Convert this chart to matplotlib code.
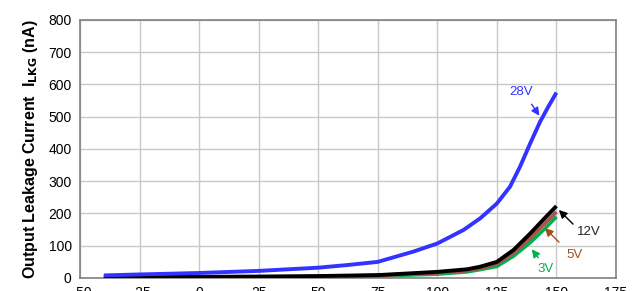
import numpy as np
import matplotlib
matplotlib.use("Agg")
import matplotlib.pyplot as plt

plt.rcParams['font.family'] = ['Liberation Sans', 'DejaVu Sans']

# readings (temperature in C, current in nA)
t_28v = [-40, -25, 0, 25, 50, 62, 75, 90, 100, 111, 118, 125, 130.5, 134.7, 138.9, 143.1, 146.5, 150]
i_28v = [8, 11, 15.5, 22, 32, 40, 50, 82, 107, 149, 185, 231, 283, 345, 416, 484, 530, 575]

t_low = [-40, 0, 25, 50, 75, 100, 112.5, 118, 125, 132, 139, 145, 150]
i_12v = [3, 3.5, 4.5, 6, 9, 19, 27, 35, 50, 87, 138, 185, 223]
i_5v = [1.5, 2, 3, 5, 8, 16, 23, 30, 44, 78, 124, 168, 205]
i_3v = [0.5, 1, 2, 3, 6, 12, 19, 26, 36, 68, 110, 152, 190]

xticks = [-50, -25, 0, 25, 50, 75, 100, 125, 150, 175]
yticks = [0, 100, 200, 300, 400, 500, 600, 700, 800]

c28, c12, c5, c3 = '#3333ff', '#000000', '#b0504a', '#00b050'

fig = plt.figure(figsize=(6.4, 2.91), dpi=100)
ax = fig.add_axes([0.125, 0.0447, 0.8375, 0.8866])

kw = dict(solid_capstyle='butt', solid_joinstyle='round')
ax.plot(t_low, i_3v, color=c3, lw=2.6, zorder=3, **kw)
ax.plot(t_low, i_5v, color=c5, lw=2.6, zorder=4, **kw)
ax.plot(t_low, i_12v, color=c12, lw=2.8, zorder=5, **kw)
ax.plot(t_28v, i_28v, color=c28, lw=2.8, zorder=5, **kw)

def label(txt, xy, xytext, col, tcol, tx, ty):
    ax.annotate('', xy=xy, xytext=xytext,
                arrowprops=dict(arrowstyle='-|>', color=col, lw=1.0, mutation_scale=12), zorder=6)
    ax.text(tx, ty, txt, color=tcol, fontsize=9.5, ha='center', va='center', zorder=6)

label('28V', (143.5, 496), (138.9, 546), c28, c28, 135.1, 576)
label('12V', (150.2, 217), (157.8, 161), '#000000', '#222222', 163.6, 143)
label('5V', (144.3, 161), (151.9, 105), '#a0501a', '#a0501a', 157.4, 71)
label('3V', (138.9, 96), (143.1, 56), c3, c3, 145.6, 28)

ax.set_xlim(-50, 175)
ax.set_ylim(0, 800)
ax.set_xticks(xticks)
ax.set_yticks(yticks)
ax.tick_params(length=0, labelsize=10, pad=6)
ax.grid(True, color='#c8c8c8', lw=1.0)
ax.set_axisbelow(True)
for s in ax.spines.values():
    s.set_color('#808080')
    s.set_linewidth(1.2)

ax.set_ylabel(r'Output Leakage Current  I$_{\mathbf{LKG}}$ (nA)', fontsize=11.5,
              fontweight='bold', labelpad=6)

fig.savefig('out.png', dpi=100)
